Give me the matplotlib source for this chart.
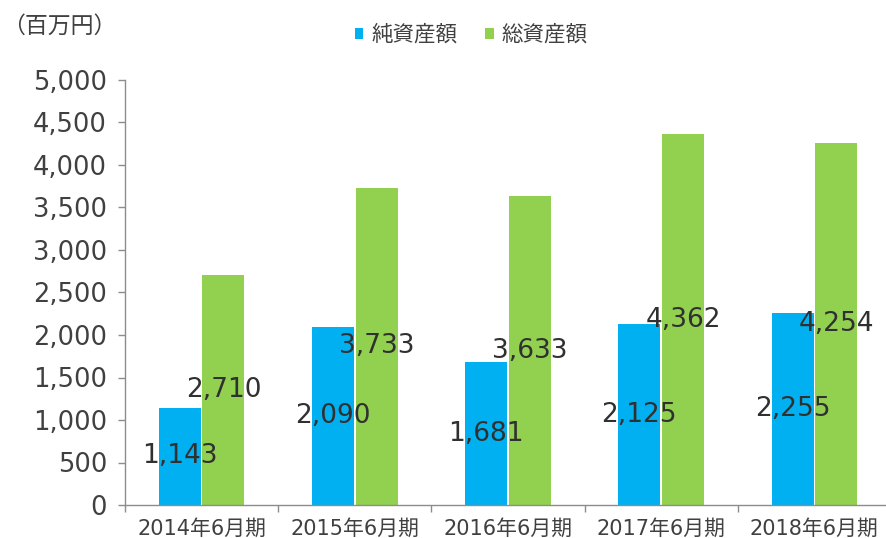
import matplotlib
matplotlib.use("Agg")
import matplotlib.pyplot as plt
import numpy as np

categories = ["2014年6月期", "2015年6月期", "2016年6月期", "2017年6月期", "2018年6月期"]
net_assets = [1143, 2090, 1681, 2125, 2255]
total_assets = [2710, 3733, 3633, 4362, 4254]
series_names = ["純資産額", "総資産額"]
unit_label = "（百万円）"

plt.rcParams['font.family'] = ['DejaVu Sans', 'Noto Sans CJK JP']

BLUE = "#00B0F0"
GREEN = "#92D050"
TXT = "#404040"
AXC = "#8C8C8C"

fig = plt.figure(figsize=(8.86, 5.38), dpi=100)
W, H = 886, 538
ax = fig.add_axes([125 / W, 1 - 505 / H, (891 - 125) / W, (505 - 80) / H])

x = np.arange(len(categories))
bw = 0.275
off = 0.1425
b1 = ax.bar(x - off, net_assets, bw, color=BLUE, label=series_names[0], zorder=2)
b2 = ax.bar(x + off, total_assets, bw, color=GREEN, label=series_names[1], zorder=2)

for bars, vals in ((b1, net_assets), (b2, total_assets)):
    for r, v in zip(bars, vals):
        ax.text(r.get_x() + r.get_width() / 2, v / 2, f"{v:,}", ha="center", va="center",
                fontsize=19, color="#303030", zorder=3)

ax.set_xlim(-0.5, len(categories) - 0.5)
ax.set_ylim(0, 5000)
ax.set_yticks(np.arange(0, 5001, 500))
ax.set_yticklabels([f"{v:,}" for v in range(0, 5001, 500)], fontsize=18.5, color=TXT)
ax.tick_params(axis="y", direction="out", length=5, width=1, color=AXC, pad=8)

ax.set_xticks(x)
ax.set_xticklabels(categories, fontsize=15, color=TXT)
ax.set_xticks(np.arange(-0.5, len(categories)), minor=True)
ax.tick_params(axis="x", which="major", length=0, pad=10)
ax.tick_params(axis="x", which="minor", direction="out", length=5, width=1, color=AXC)

for s in ("top", "right"):
    ax.spines[s].set_visible(False)
for s in ("left", "bottom"):
    ax.spines[s].set_color(AXC)
    ax.spines[s].set_linewidth(1)

fig.text(2 / W, 1 - 26 / H, unit_label, fontsize=16.5, color=TXT, ha="left", va="center",
         family=['Noto Sans CJK JP'])

leg = fig.legend(handles=[b1, b2], labels=series_names, loc="center", bbox_to_anchor=(471 / W, 1 - 35 / H),
                 ncol=2, frameon=False, handlelength=0.4, handleheight=0.4,
                 handletextpad=0.35, columnspacing=1.3, prop={'family': ['Noto Sans CJK JP'], 'size': 15.5})
for t in leg.get_texts():
    t.set_color(TXT)

fig.savefig("out.png", dpi=100)
